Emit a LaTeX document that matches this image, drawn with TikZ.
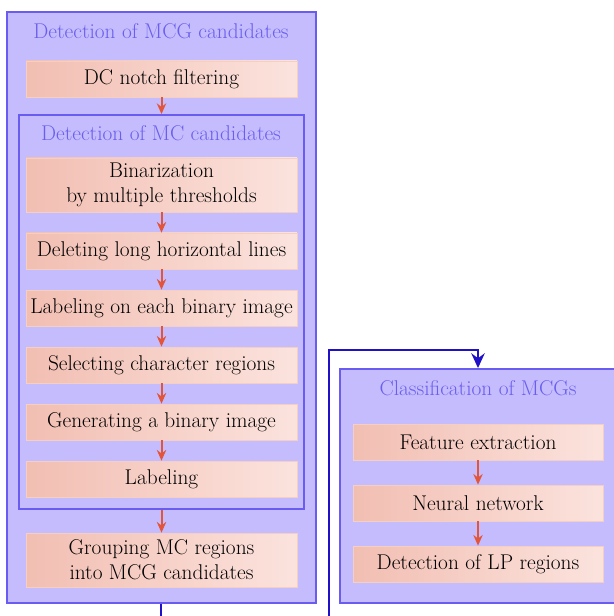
\documentclass[tikz,border=0pt]{standalone}
\usepackage{fontspec}
\usetikzlibrary{arrows.meta}
\definecolor{grpfill}{HTML}{C4BCFC}
\definecolor{grpline}{HTML}{6A5CF0}
\definecolor{titlecol}{HTML}{6A5EEE}
\definecolor{boxL}{HTML}{F2BEB2}
\definecolor{boxR}{HTML}{FBE3DD}
\definecolor{boxline}{HTML}{F5CFC4}
\definecolor{arrcol}{HTML}{E2553A}
\definecolor{conncol}{HTML}{2010C8}
\tikzset{
  grp/.style={draw=grpline, fill=grpfill, line width=1.5pt, inner sep=0pt},
  grptitle/.style={text=titlecol, font=\rmfamily\fontsize{16}{19}\selectfont, inner sep=0pt},
  stepbox/.style={draw=boxline, line width=0.5pt, left color=boxL, right color=boxR,
    minimum width=203.25pt, minimum height=27pt, inner sep=0pt, align=center,
    font=\rmfamily\fontsize{16}{19}\selectfont},
  flow/.style={draw=arrcol, line width=1.5pt, -{Stealth[length=8pt,width=7pt]}},
  conn/.style={draw=conncol, line width=2.2pt, -{Stealth[length=11pt,width=10pt]}}
}
\begin{document}
\begin{tikzpicture}[x=0.75pt,y=-0.75pt]
\useasboundingbox (0,0) rectangle (613,616);
\fill[white] (0,0) rectangle (613,616);
% outer groups
\draw[grp] (7,12) rectangle (316,603);
\node[inner sep=0pt] (outerbot) at (161,603) {};
\draw[grp] (19,115) rectangle (304,509);
\draw[grp] (340,369) rectangle (620,603);
\node[inner sep=0pt] (rtop) at (478,369) {};
% titles
\node[grptitle] (t1) at (161,31) {Detection of MCG candidates};
\node[grptitle] (t2) at (161,133) {Detection of MC candidates};
\node[grptitle] (t3) at (478,388) {Classification of MCGs};
% steps left
\node[stepbox] (dc) at (161.5,79) {DC notch filtering};
\node[inner sep=0pt] (innertop) at (161.5,115) {};
\node[stepbox, minimum height=40.5pt] (bin) at (161.5,185) {Binarization\\by multiple thresholds};
\node[stepbox] (del) at (161.5,251) {Deleting long horizontal lines};
\node[stepbox] (lab1) at (161.5,308) {Labeling on each binary image};
\node[stepbox] (sel) at (161.5,365) {Selecting character regions};
\node[stepbox] (gen) at (161.5,422) {Generating a binary image};
\node[stepbox] (lab2) at (161.5,479) {Labeling};
\node[inner sep=0pt] (innerbot) at (161.5,509) {};
\node[stepbox, minimum height=40.5pt] (grp) at (161.5,560) {Grouping MC regions\\into MCG candidates};
% steps right
\node[stepbox, minimum width=187.5pt] (feat) at (478,442) {Feature extraction};
\node[stepbox, minimum width=187.5pt] (nn) at (478,503) {Neural network};
\node[stepbox, minimum width=187.5pt] (lp) at (478,564) {Detection of LP regions};
% flow arrows
\draw[flow] (dc.south) -- (innertop);
\draw[flow] (bin.south) -- (del.north);
\draw[flow] (del.south) -- (lab1.north);
\draw[flow] (lab1.south) -- (sel.north);
\draw[flow] (sel.south) -- (gen.north);
\draw[flow] (gen.south) -- (lab2.north);
\draw[flow] (innerbot) -- (grp.north);
\draw[flow] (feat.south) -- (nn.north);
\draw[flow] (nn.south) -- (lp.north);
% connector
\coordinate (c1) at (161,630);
\coordinate (c2) at (329,630);
\coordinate (c3) at (329,350);
\coordinate (c4) at (478,350);
\draw[conn] (outerbot) -- (c1) -- (c2) -- (c3) -- (c4) -- (rtop);
\end{tikzpicture}
\end{document}
